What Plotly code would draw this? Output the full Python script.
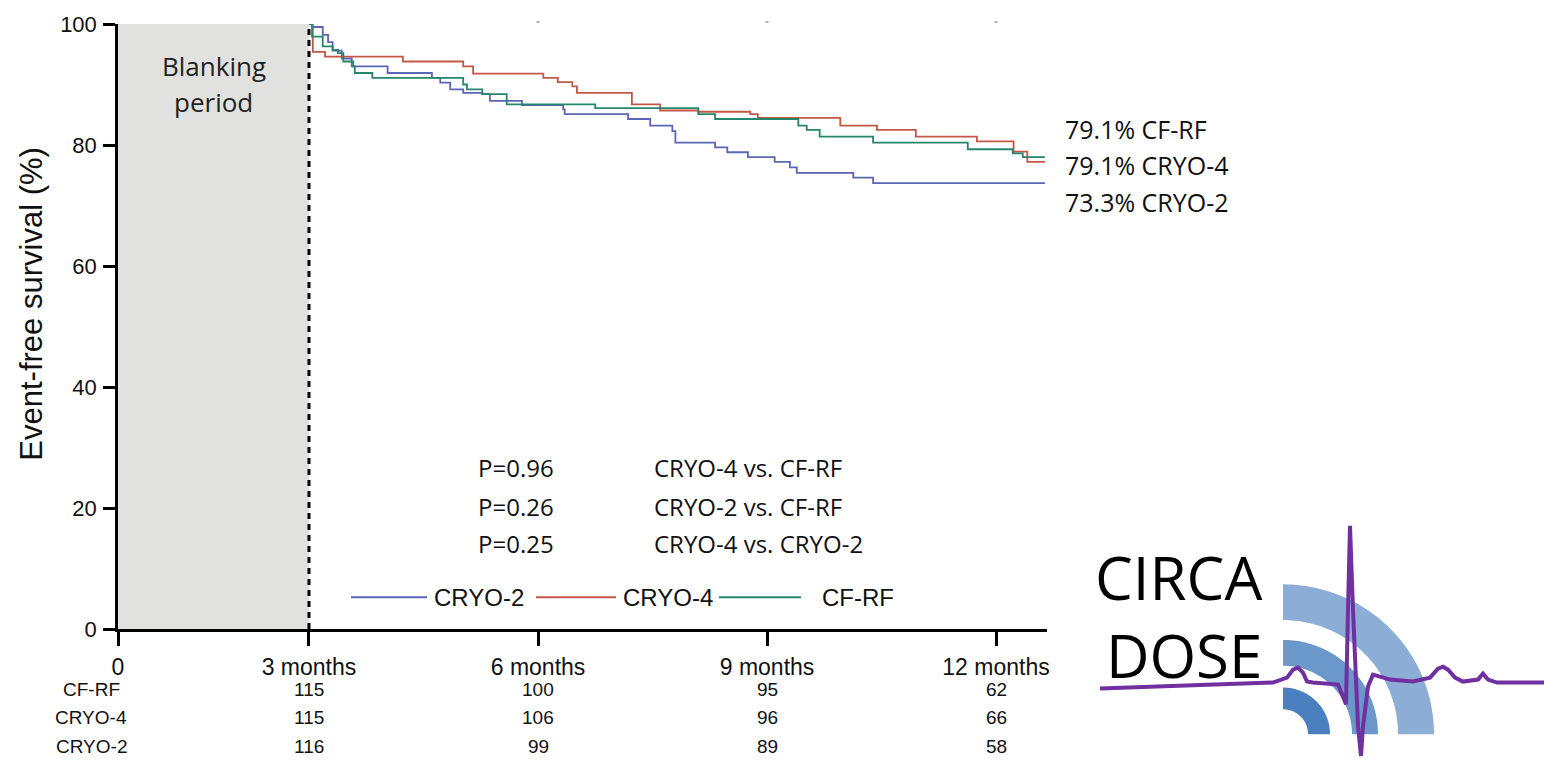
import numpy as np
import plotly.graph_objects as go

# ---------------- data ----------------
months_cryo2 = [3.00, 3.04, 3.18, 3.25, 3.31, 3.43, 3.56, 4.03, 4.61, 4.72,
                4.85, 5.02, 5.27, 5.37, 5.79, 6.33, 6.35, 7.18, 7.47, 7.76,
                7.80, 8.32, 8.48, 8.75, 9.10, 9.30, 9.39, 10.13, 10.39, 12.64]
surv_cryo2 = [100, 99.5, 98.2, 97.0, 95.6, 94.3, 93.0, 91.9, 91.1, 90.3,
              89.2, 88.6, 88.4, 87.3, 86.6, 85.9, 85.1, 84.3, 83.2, 82.3,
              80.4, 79.6, 78.8, 78.0, 77.2, 76.3, 75.4, 74.6, 73.7, 73.7]

months_cryo4 = [3.00, 3.05, 3.21, 4.23, 5.02, 5.15, 6.07, 6.26, 6.45, 6.51,
                7.23, 7.60, 8.10, 8.78, 8.88, 9.96, 10.44, 10.95, 11.75, 12.23,
                12.41, 12.64]
surv_cryo4 = [100, 95.4, 94.6, 93.8, 93.0, 91.8, 91.1, 90.4, 89.7, 88.6,
              86.7, 85.7, 85.5, 85.1, 84.5, 83.2, 82.5, 81.4, 80.6, 78.9,
              77.2, 77.2]

months_cfrf = [3.00, 3.04, 3.18, 3.31, 3.38, 3.45, 3.58, 3.60, 3.83, 5.02,
               5.07, 5.27, 5.59, 6.75, 8.10, 8.32, 9.41, 9.52, 9.69, 10.39,
               11.63, 12.22, 12.35, 12.64]
surv_cfrf = [100, 97.9, 96.3, 95.7, 95.2, 93.8, 93.0, 91.9, 91.1, 90.0,
             89.2, 88.4, 86.7, 86.1, 85.1, 84.3, 83.2, 82.5, 81.4, 80.4,
             79.3, 78.6, 78.0, 78.0]

series_names = ["CRYO-2", "CRYO-4", "CF-RF"]
series_colors = ["#5b66b4", "#c35746", "#24876c"]

tick_months = [3, 6, 9, 12]
tick_labels = ["0", "3 months", "6 months", "9 months", "12 months"]
y_ticks = [0, 20, 40, 60, 80, 100]

risk_groups = ["CF-RF", "CRYO-4", "CRYO-2"]
risk_cfrf = [115, 100, 95, 62]
risk_cryo4 = [115, 106, 96, 66]
risk_cryo2 = [116, 99, 89, 58]

final_labels = ["79.1% CF-RF", "79.1% CRYO-4", "73.3% CRYO-2"]
p_values = ["P=0.96", "P=0.26", "P=0.25"]
p_comparisons = ["CRYO-4 vs. CF-RF", "CRYO-2 vs. CF-RF", "CRYO-4 vs. CRYO-2"]

# ---------------- layout geometry ----------------
W, H = 1544, 772
L, R, T, B = 118, 1047, 19, 629          # plot area in pixels
X_ZERO = 0.498                           # compressed origin of the time axis
X_END = 12.668


def pxx(px):
    return (px - L) / (R - L)


def pxy(py):
    return (B - py) / (B - T)


ARIAL = "Liberation Sans, Arial, sans-serif"
CALI = "Open Sans, Noto Sans, sans-serif"

fig = go.Figure()
all_t = [months_cryo2, months_cryo4, months_cfrf]
all_s = [surv_cryo2, surv_cryo4, surv_cfrf]
for name, col, t, s in zip(series_names, series_colors, all_t, all_s):
    fig.add_trace(go.Scatter(x=t, y=s, mode="lines", name=name,
                             line=dict(color=col, width=1.8, shape="hv"),
                             showlegend=False, hoverinfo="skip"))

shapes = []
# blanking period
shapes.append(dict(type="rect", xref="x", yref="y", x0=X_ZERO, x1=3, y0=0, y1=100,
                   fillcolor="#e1e2e0", line=dict(width=0), layer="below"))
shapes.append(dict(type="line", xref="x", yref="y", x0=3, x1=3, y0=0, y1=100,
                   line=dict(color="black", width=3, dash="6px,5px"), layer="below"))
# small marks at top
for m in [6, 9, 12]:
    shapes.append(dict(type="line", xref="x", yref="paper", x0=m - 0.02, x1=m + 0.02,
                       y0=pxy(17), y1=pxy(17), line=dict(color="#999", width=1.5)))

# manual legend
leg_lines = [(351, 427, 432), (536, 616, 621), (719, 801, 820)]
annotations = []
for (a, b, tx), name, col in zip(leg_lines, series_names, series_colors):
    shapes.append(dict(type="line", xref="paper", yref="paper", x0=pxx(a), x1=pxx(b),
                       y0=pxy(597), y1=pxy(597), line=dict(color=col, width=1.8)))
    annotations.append(dict(text=name, xref="paper", yref="paper", x=pxx(tx), y=pxy(597),
                            xanchor="left", yanchor="middle", showarrow=False,
                            font=dict(family=ARIAL, size=24, color="#111")))

# blanking text
annotations.append(dict(text="Blanking", xref="x", yref="paper", x=(X_ZERO + 3) / 2, y=pxy(61),
                        showarrow=False, xanchor="center", yanchor="middle",
                        font=dict(family=CALI, size=26, color="#222")))
annotations.append(dict(text="period", xref="x", yref="paper", x=(X_ZERO + 3) / 2, y=pxy(98),
                        showarrow=False, xanchor="center", yanchor="middle",
                        font=dict(family=CALI, size=26, color="#222")))

# y title
annotations.append(dict(text="Event-free survival (%)", xref="paper", yref="paper",
                        x=pxx(32), y=pxy(301), textangle=-90, showarrow=False,
                        xanchor="center", yanchor="middle",
                        font=dict(family=ARIAL, size=31, color="#111")))

# final survival labels
for lab, py in zip(final_labels, [125, 161, 198]):
    annotations.append(dict(text=lab, xref="paper", yref="paper", x=pxx(1063), y=pxy(py),
                            xanchor="left", yanchor="middle", showarrow=False,
                            font=dict(family=CALI, size=25, color="#111")))

# p values
for pv, comp, py in zip(p_values, p_comparisons, [466, 505, 543]):
    annotations.append(dict(text=pv, xref="paper", yref="paper", x=pxx(476), y=pxy(py),
                            xanchor="left", yanchor="middle", showarrow=False,
                            font=dict(family=CALI, size=24, color="#111")))
    annotations.append(dict(text=comp, xref="paper", yref="paper", x=pxx(652), y=pxy(py),
                            xanchor="left", yanchor="middle", showarrow=False,
                            font=dict(family=CALI, size=24, color="#111")))

# number at risk table
for grp, vals, py in zip(risk_groups, [risk_cfrf, risk_cryo4, risk_cryo2], [690, 718, 747]):
    annotations.append(dict(text=grp, xref="paper", yref="paper", x=pxx(91), y=pxy(py),
                            xanchor="center", yanchor="middle", showarrow=False,
                            font=dict(family=ARIAL, size=19, color="#111")))
    for m, v in zip(tick_months, vals):
        annotations.append(dict(text=str(v), xref="x", yref="paper", x=m, y=pxy(py),
                                xanchor="center", yanchor="middle", showarrow=False,
                                font=dict(family=ARIAL, size=19, color="#111")))

# ---------------- CIRCA DOSE logo ----------------
cx, cy = 1283, 735
bands = [(115, 151, "#8cadd6"), (69, 95, "#6b98cb"), (25, 47, "#4a7fc0")]
for r0, r1, col in bands:
    th = np.linspace(0, np.pi / 2, 60)
    outer = [(cx + r1 * np.cos(a), cy - r1 * np.sin(a)) for a in th]
    inner = [(cx + r0 * np.cos(a), cy - r0 * np.sin(a)) for a in th[::-1]]
    pts = outer + inner
    path = "M " + " L ".join(f"{pxx(x):.5f},{pxy(y):.5f}" for x, y in pts) + " Z"
    shapes.append(dict(type="path", xref="paper", yref="paper", path=path,
                       fillcolor=col, line=dict(width=0)))

ecg = [(1100, 689), (1273, 683), (1287, 678), (1293, 670), (1298, 668), (1303, 673),
       (1307, 682), (1313, 683), (1338, 685), (1343, 697), (1346, 705), (1348, 610),
       (1350, 525), (1353, 610), (1358, 727), (1361, 757), (1363, 727), (1368, 687),
       (1373, 675), (1380, 677), (1390, 680), (1413, 682), (1430, 678), (1438, 669),
       (1443, 667), (1448, 670), (1455, 678), (1463, 682), (1478, 680), (1483, 674),
       (1488, 680), (1497, 683), (1544, 683)]
ecg_path = "M " + " L ".join(f"{pxx(x):.5f},{pxy(y):.5f}" for x, y in ecg)
shapes.append(dict(type="path", xref="paper", yref="paper", path=ecg_path,
                   line=dict(color="#7030a0", width=4)))

annotations.append(dict(text="CIRCA<br>DOSE", xref="paper", yref="paper", x=pxx(1264),
                        y=pxy(616), xanchor="right", yanchor="middle", align="right",
                        showarrow=False, font=dict(family=CALI, size=60, color="black")))

fig.update_layout(
    width=W, height=H, autosize=False,
    margin=dict(l=L, r=W - R, t=T, b=H - B, pad=0),
    paper_bgcolor="white", plot_bgcolor="white",
    shapes=shapes, annotations=annotations, showlegend=False,
    xaxis=dict(range=[X_ZERO, X_END], tickvals=[X_ZERO] + tick_months, ticktext=tick_labels,
               showline=True, linecolor="black", linewidth=2.5, ticks="outside",
               ticklen=14, tickwidth=2.5, tickcolor="black", showgrid=False, zeroline=False,
               tickfont=dict(family=ARIAL, size=23, color="#111"), ticklabelstandoff=2),
    yaxis=dict(range=[0, 100], tickvals=y_ticks, showline=True, linecolor="black",
               linewidth=2.5, ticks="outside", ticklen=12, tickwidth=2.5, tickcolor="black",
               showgrid=False, zeroline=False,
               tickfont=dict(family=ARIAL, size=22, color="#111"), ticklabelstandoff=2),
)

fig.write_html("out.html")
